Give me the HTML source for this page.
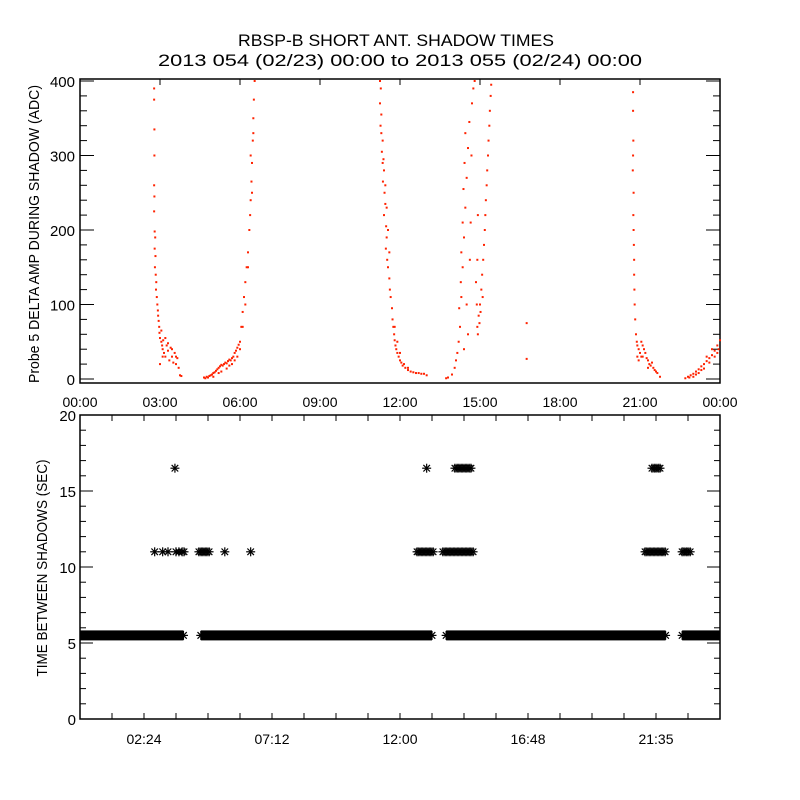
<!DOCTYPE html>
<html><head><meta charset="utf-8"><style>
html,body{margin:0;padding:0;background:#fff;}
svg{display:block;font-family:"Liberation Sans",sans-serif;}
</style></head><body>
<svg id="chart" width="800" height="800" viewBox="0 0 800 800" xmlns="http://www.w3.org/2000/svg">
<rect x="0" y="0" width="800" height="800" fill="#fff"/>
<text x="396" y="46" text-anchor="middle" font-size="17" textLength="316" lengthAdjust="spacingAndGlyphs">RBSP-B SHORT ANT. SHADOW TIMES</text>
<text x="400" y="66" text-anchor="middle" font-size="17" textLength="484" lengthAdjust="spacingAndGlyphs">2013 054 (02/23) 00:00 to 2013 055 (02/24) 00:00</text>
<g id="topPanel"></g>
<g id="botPanel"></g>
<text transform="translate(39,234) rotate(-90)" text-anchor="middle" font-size="15" textLength="298" lengthAdjust="spacingAndGlyphs">Probe 5 DELTA AMP DURING SHADOW (ADC)</text>
<text transform="translate(47,568) rotate(-90)" text-anchor="middle" font-size="15" textLength="217" lengthAdjust="spacingAndGlyphs">TIME BETWEEN SHADOWS (SEC)</text>
</svg>
<script>
// ---- top panel data: [hour, ADC] ----
const segA = [[2.78,390],[2.78,375],[2.79,335],[2.79,300],[2.78,260],[2.79,245],[2.78,225],[2.80,198],[2.82,190],[2.80,175],[2.83,165],[2.81,150],[2.84,140],[2.86,130],[2.85,120],[2.88,110],[2.90,100],[2.92,92],[2.93,85],[2.95,78],[2.97,70],[2.98,62],[3.0,55],[3.05,50],[3.08,45],[3.1,40],[3.12,52],[3.15,35],[3.2,30],[3.25,45],[3.3,38],[3.35,25],[3.4,42],[3.45,30],[3.5,22],[3.55,35],[3.6,20],[3.65,28],[3.7,15],[3.75,5],[3.8,4],[3.05,65],[3.0,20],[3.2,55],[3.1,30],[3.3,48],[3.45,40],[3.6,30]];
const segB = [[4.65,2],[4.7,1],[4.75,3],[4.8,2],[4.85,4],[4.9,5],[4.95,6],[5.0,8],[5.05,9],[5.1,11],[5.15,13],[5.2,15],[5.25,17],[5.3,19],[5.35,18],[5.4,20],[5.45,22],[5.5,21],[5.55,24],[5.6,26],[5.65,25],[5.7,28],[5.75,30],[5.8,35],[5.85,38],[5.9,42],[5.95,46],[6.0,50],[6.05,70],[6.1,90],[6.15,110],[6.2,130],[6.25,150],[6.3,170],[6.35,200],[6.38,220],[6.4,240],[6.43,265],[6.45,290],[6.48,320],[6.5,350],[6.52,375],[6.55,400],[5.0,3],[5.3,10],[5.5,14],[5.7,20],[5.9,30],[6.1,70],[6.3,150],[6.45,250],[5.2,8],[5.6,18],[5.8,25],[6.0,40],[6.2,100],[6.4,300],[6.5,330]];
const segC = [[11.25,400],[11.28,390],[11.25,370],[11.3,355],[11.27,340],[11.3,330],[11.35,320],[11.32,305],[11.38,295],[11.4,280],[11.36,265],[11.42,250],[11.45,235],[11.4,220],[11.48,205],[11.5,190],[11.47,175],[11.52,160],[11.55,150],[11.6,135],[11.62,120],[11.65,110],[11.7,95],[11.72,80],[11.75,70],[11.78,60],[11.8,52],[11.83,45],[11.86,40],[11.9,35],[11.95,30],[12.0,25],[12.05,22],[12.1,18],[12.2,15],[12.3,12],[12.4,10],[12.5,9],[12.6,8],[12.7,8],[12.8,7],[12.9,7],[13.0,5],[11.35,290],[11.45,260],[11.5,230],[11.55,200],[11.6,170],[11.8,70],[11.9,50],[12.0,35],[12.15,20],[12.3,15]];
const segD = [[13.73,1],[13.8,2],[13.95,6],[14.05,15],[14.1,25],[14.15,35],[14.2,50],[14.25,70],[14.22,95],[14.3,110],[14.28,130],[14.35,150],[14.3,170],[14.4,190],[14.35,210],[14.45,230],[14.38,255],[14.5,270],[14.42,290],[14.55,310],[14.45,330],[14.6,345],[14.7,370],[14.75,390],[14.8,400],[14.5,100],[14.55,60],[14.4,40],[14.62,160],[14.65,210],[14.68,300],[14.85,130],[14.88,100],[14.9,70],[14.92,60],[14.95,85],[14.98,75],[15.0,100],[15.02,90],[15.05,120],[15.08,140],[15.1,110],[15.12,160],[15.15,180],[15.18,200],[15.2,220],[15.22,240],[15.25,260],[15.27,280],[15.3,300],[15.32,320],[15.35,340],[15.37,360],[15.4,380],[15.42,395],[14.9,160],[14.92,220],[16.75,75],[16.75,27]];
const segE = [[20.74,385],[20.74,360],[20.75,320],[20.74,300],[20.73,280],[20.76,250],[20.75,220],[20.76,200],[20.77,180],[20.78,160],[20.78,140],[20.79,120],[20.8,100],[20.82,80],[20.85,60],[20.88,50],[20.9,45],[20.95,40],[21.0,35],[21.05,30],[21.1,45],[21.15,40],[21.2,35],[21.25,28],[21.3,25],[21.35,20],[21.4,18],[21.45,22],[21.5,15],[21.55,12],[21.6,10],[21.65,8],[21.75,3],[21.05,50],[20.95,25],[20.9,30],[21.1,30],[21.3,15]];
const segF = [[22.7,1],[22.8,3],[22.9,5],[23.0,7],[23.1,10],[23.2,13],[23.3,17],[23.4,20],[23.5,24],[23.6,28],[23.7,32],[23.8,38],[23.9,45],[24.0,52],[23.0,3],[23.2,8],[23.4,14],[23.6,22],[23.8,30],[23.95,40],[23.5,30],[23.7,40],[22.85,2],[23.1,6],[23.3,12],[23.9,35]];
const topXTicks = ["00:00","03:00","06:00","09:00","12:00","15:00","18:00","21:00","00:00"];
const topYTicks = [0,100,200,300,400];

// ---- bottom panel data ----
const bandStart = [0, 4.53, 13.73, 22.58];
const bandEnd = [3.88, 13.2, 21.96, 24];
const bandValue = 5.5;
const stars11Hours = [2.80,3.10,3.30,3.60,3.71,3.83,3.90,4.46,4.54,4.61,4.69,4.76,4.84,5.43,6.40,12.64,12.71,12.79,12.86,12.94,13.01,13.09,13.16,13.24,13.61,13.69,13.76,13.84,13.91,13.99,14.06,14.14,14.21,14.29,14.36,14.44,14.51,14.59,14.66,14.74,21.19,21.26,21.34,21.41,21.49,21.56,21.64,21.71,21.79,21.86,21.94,22.58,22.65,22.73,22.80,22.88];
const stars16Hours = [3.56,13.0,14.06,14.14,14.21,14.29,14.36,14.44,14.51,14.59,14.66,21.45,21.53,21.60,21.68,21.75];
const botXTickLabels = ["02:24","07:12","12:00","16:48","21:35"];
const botYTicks = [0,5,10,15,20];

const NS = "http://www.w3.org/2000/svg";
function mk(tag, attrs, parent){const e=document.createElementNS(NS,tag);for(const k in attrs)e.setAttribute(k,attrs[k]);parent.appendChild(e);return e;}

// top axes
const TL=80,TR=720,TT=79,TB=383;
const tx = h => TL + (TR-TL)*h/24;
const ty = v => 379 - v*0.745;
const topG = document.getElementById('topPanel');
const tframe = mk('rect',{x:TL,y:TT,width:TR-TL,height:TB-TT,fill:'none',stroke:'#000','stroke-width':1.5},topG);


for(let v=0; v<=400; v+=20){
  const len = v%100===0 ? 14 : 7;
  mk('line',{x1:TL,x2:TL+len,y1:ty(v),y2:ty(v),stroke:'#000'},topG);
  mk('line',{x1:TR,x2:TR-len,y1:ty(v),y2:ty(v),stroke:'#000'},topG);
}
topYTicks.forEach(v=>{
  const t=mk('text',{x:TL-5,y:ty(v)+6,'text-anchor':'end','font-size':15},topG);
  t.textContent=v;
  
  
});
topXTicks.forEach((s,i)=>{
  const x=tx(i*3);
  mk('line',{x1:x,x2:x,y1:TT,y2:TT+6,stroke:'#000'},topG);
  const t=mk('text',{x:x,y:407,'text-anchor':'middle','font-size':14},topG);
  t.textContent=s;
  
  
});
[segA,segB,segC,segD,segE,segF].forEach(seg=>{
  seg.forEach(p=>{
    const d=mk('rect',{x:tx(p[0])-1,y:ty(p[1])-1,width:2,height:2,fill:'#ff2200'},topG);
    
    
  });
});

// bottom axes
const BL=80,BR=720,BT=415,BB=719;
const bx = h => BL + (BR-BL)*h/24;
const by = v => BB - (BB-BT)*v/20;
const botG = document.getElementById('botPanel');
const bframe = mk('rect',{x:BL,y:BT,width:BR-BL,height:BB-BT,fill:'none',stroke:'#000','stroke-width':1.5},botG);


for(let v=0; v<=20; v+=1){
  const len = v%5===0 ? 13 : 6;
  mk('line',{x1:BL,x2:BL+len,y1:by(v),y2:by(v),stroke:'#000'},botG);
  mk('line',{x1:BR,x2:BR-len,y1:by(v),y2:by(v),stroke:'#000'},botG);
}
botYTicks.forEach(v=>{
  const t=mk('text',{x:BL-4,y:by(v)+6,'text-anchor':'end','font-size':15},botG);
  t.textContent=v;
  
  
});
for(let i=1;i<20;i++){
  const x=bx(i*1.2);
  mk('line',{x1:x,x2:x,y1:BB,y2:BB-6,stroke:'#000'},botG);
  mk('line',{x1:x,x2:x,y1:BT,y2:BT+6,stroke:'#000'},botG);
}
botXTickLabels.forEach((s,i)=>{
  const t=mk('text',{x:bx((i*2+1)*2.4),y:744,'text-anchor':'middle','font-size':14},botG);
  t.textContent=s;
  
  
});
function star(h,v){
  const g=mk('g',{stroke:'#000','stroke-width':1.2},botG);
  
  
  const x=bx(h),y=by(v),r=4.5;
  mk('line',{x1:x-r,x2:x+r,y1:y,y2:y},g);
  mk('line',{x1:x,x2:x,y1:y-r,y2:y+r},g);
  mk('line',{x1:x-3.3,x2:x+3.3,y1:y-3.3,y2:y+3.3},g);
  mk('line',{x1:x-3.3,x2:x+3.3,y1:y+3.3,y2:y-3.3},g);
}
bandStart.forEach((s,i)=>{
  const x0=Math.max(BL,bx(s)), x1=Math.min(BR,bx(bandEnd[i]));
  const r=mk('rect',{x:x0,y:by(bandValue)-5,width:x1-x0,height:10,fill:'#000'},botG);
  
  
  if(s>0) star(s,bandValue);
  if(bandEnd[i]<24) star(bandEnd[i],bandValue);
});
stars11Hours.forEach(h=>star(h,11));
stars16Hours.forEach(h=>star(h,16.5));
</script>
</body></html>
